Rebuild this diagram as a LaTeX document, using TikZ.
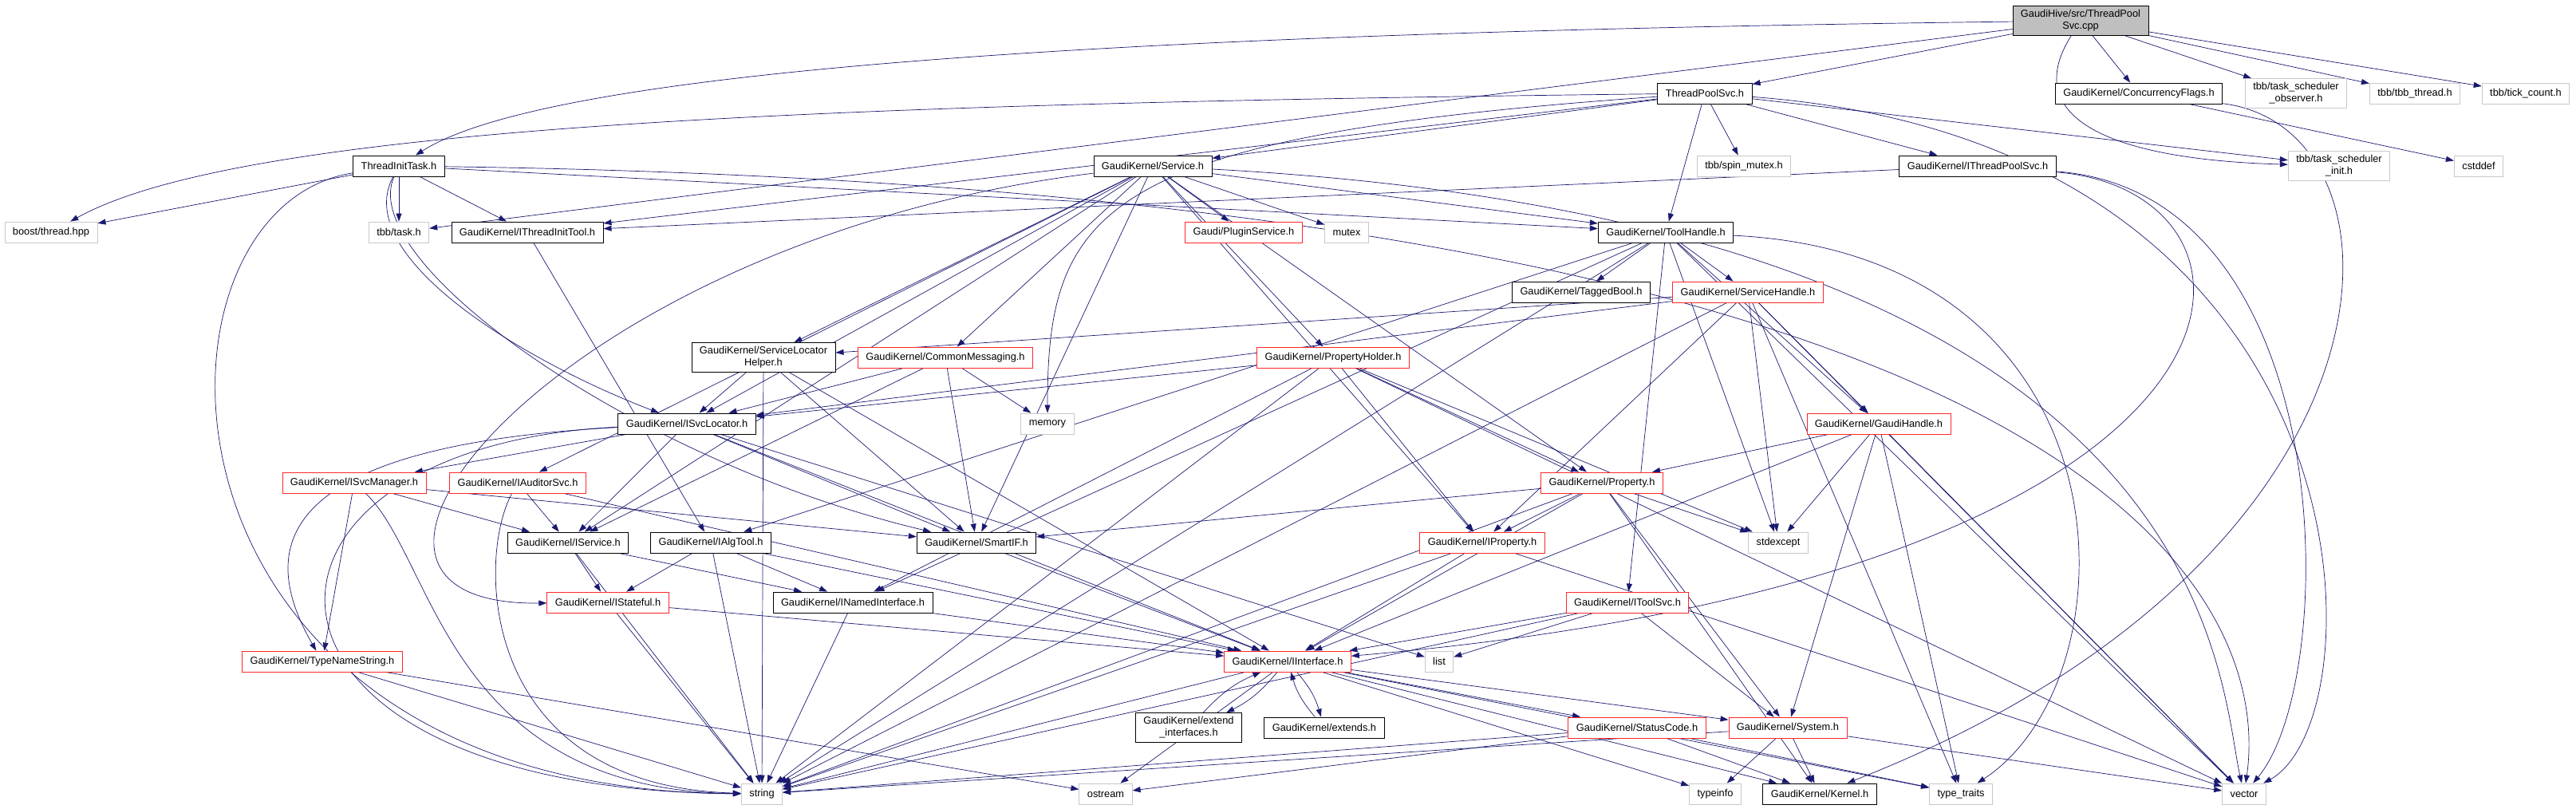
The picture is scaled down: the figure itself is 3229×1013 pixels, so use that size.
\documentclass[tikz,border=0pt]{standalone}
\usepackage{fontspec}
\setmainfont{Liberation Sans}
\usepackage{tikz}
\usetikzlibrary{arrows.meta, backgrounds, positioning}

\definecolor{edgeblue}{RGB}{25,25,112}
\definecolor{linkred}{RGB}{255,40,40}
\definecolor{sysgray}{RGB}{200,200,200}
\definecolor{rootgray}{RGB}{191,191,191}

\begin{document}
\begin{tikzpicture}[x=1pt, y=-1pt,
    hdr/.style={draw=black, line width=0.9pt, fill=white, font=\fontsize{12.8}{15}\selectfont,
                inner xsep=10pt, inner ysep=5pt, minimum height=26pt, align=center},
    redhdr/.style={hdr, draw=linkred},
    syshdr/.style={hdr, draw=sysgray},
    dep/.style={draw=edgeblue, line width=0.7pt, -{Triangle[length=10pt,width=7pt]}}]

    % Cadre
    \useasboundingbox (0,0) rectangle (3229,1013);

    % Fichier racine
    \node[hdr, fill=rootgray] (cpp) at (2608,26) {GaudiHive/src/ThreadPool\\Svc.cpp};

    % Rang 1
    \node[hdr] (tps) at (2137,117) {ThreadPoolSvc.h};
    \node[hdr] (cf) at (2681,117) {GaudiKernel/ConcurrencyFlags.h};
    \node[syshdr] (tso) at (2878,117) {tbb/task\_scheduler\\\_observer.h};
    \node[syshdr] (tbbt) at (3027,117) {tbb/tbb\_thread.h};
    \node[syshdr] (tick) at (3166,117) {tbb/tick\_count.h};

    % Rang 2
    \node[hdr] (tit) at (500,208) {ThreadInitTask.h};
    \node[hdr] (svc) at (1445,208) {GaudiKernel/Service.h};
    \node[syshdr] (spin) at (2186,208) {tbb/spin\_mutex.h};
    \node[hdr] (itps) at (2479,208) {GaudiKernel/IThreadPoolSvc.h};
    \node[syshdr] (tsi) at (2932,208) {tbb/task\_scheduler\\\_init.h};
    \node[syshdr] (cstd) at (3107,208) {cstddef};

    % Rang 3
    \node[syshdr] (boost) at (64,291) {boost/thread.hpp};
    \node[syshdr] (task) at (500,291) {tbb/task.h};
    \node[hdr] (itt) at (661,291) {GaudiKernel/IThreadInitTool.h};
    \node[redhdr] (plug) at (1559,291) {Gaudi/PluginService.h};
    \node[syshdr] (mtx) at (1688,291) {mutex};
    \node[hdr] (th) at (2088,291) {GaudiKernel/ToolHandle.h};

    % Rang 4
    \node[hdr] (tb) at (1982,366) {GaudiKernel/TaggedBool.h};
    \node[redhdr] (sh) at (2191,366) {GaudiKernel/ServiceHandle.h};
    \node[hdr] (slh) at (957,448) {GaudiKernel/ServiceLocator\\Helper.h};
    \node[redhdr] (cm) at (1185,448) {GaudiKernel/CommonMessaging.h};
    \node[redhdr] (ph) at (1671,448) {GaudiKernel/PropertyHolder.h};

    % Rang 5
    \node[hdr] (isl) at (861,531) {GaudiKernel/ISvcLocator.h};
    \node[syshdr] (mem) at (1313,531) {memory};
    \node[redhdr] (gh) at (2355,531) {GaudiKernel/GaudiHandle.h};
    \node[redhdr] (ism) at (444,605) {GaudiKernel/ISvcManager.h};
    \node[redhdr] (iaud) at (649,605) {GaudiKernel/IAuditorSvc.h};
    \node[redhdr] (prop) at (2008,605) {GaudiKernel/Property.h};

    % Rang 6
    \node[hdr] (isvc) at (712,680) {GaudiKernel/IService.h};
    \node[hdr] (iat) at (891,680) {GaudiKernel/IAlgTool.h};
    \node[hdr] (sif) at (1224,680) {GaudiKernel/SmartIF.h};
    \node[redhdr] (iprop) at (1858,680) {GaudiKernel/IProperty.h};
    \node[syshdr] (stdx) at (2229,680) {stdexcept};
    \node[redhdr] (ist) at (762,755) {GaudiKernel/IStateful.h};
    \node[hdr] (inam) at (1069,755) {GaudiKernel/INamedInterface.h};
    \node[redhdr] (itool) at (2040,755) {GaudiKernel/IToolSvc.h};

    % Rang 7
    \node[redhdr] (tns) at (404,829) {GaudiKernel/TypeNameString.h};
    \node[redhdr] (iif) at (1614,829) {GaudiKernel/IInterface.h};
    \node[syshdr] (list) at (1804,829) {list};
    \node[hdr] (ext) at (1490,912) {GaudiKernel/extend\\\_interfaces.h};
    \node[hdr] (exts) at (1660,912) {GaudiKernel/extends.h};
    \node[redhdr] (sc) at (2052,912) {GaudiKernel/StatusCode.h};
    \node[redhdr] (sys) at (2241,912) {GaudiKernel/System.h};

    % Rang 8
    \node[syshdr] (str) at (955,995) {string};
    \node[syshdr] (ostr) at (1386,995) {ostream};
    \node[syshdr] (tinfo) at (2150,995) {typeinfo};
    \node[hdr] (kern) at (2281,995) {GaudiKernel/Kernel.h};
    \node[syshdr] (tt) at (2458,995) {type\_traits};
    \node[syshdr] (vec) at (2813,995) {vector};

    \begin{pgfonlayer}{background}
    % Inclusions directes
    \foreach \a/\b in {cpp/tps, cpp/cf, cpp/task, cpp/tso, cpp/tbbt, cpp/tick,
                       tps/itt, tps/itps, tps/svc, tps/th, tps/spin, tps/tsi,
                       tit/boost, tit/task, tit/itt, tit/th,
                       cf/cstd, itps/itt, itt/iat,
                       svc/plug, svc/mtx, svc/th, svc/prop, svc/iprop, svc/cm, svc/slh,
                       svc/ph, svc/iaud, svc/isl, svc/isvc, svc/sif,
                       th/tb, th/sh, th/gh, th/iat, th/inam, th/itool, th/str, th/vec, th/stdx,
                       sh/slh, sh/gh, sh/isl, sh/iprop, sh/stdx, sh/str, sh/vec, sh/tt,
                       cm/isl, cm/isvc, cm/sif, cm/mem,
                       slh/isl, slh/sif, slh/str, slh/iif,
                       ph/isl, ph/iprop, ph/prop, ph/stdx, ph/vec, ph/inam, ph/str,
                       isl/ism, isl/isvc, isl/sif, isl/iif, isl/list,
                       ism/tns, ism/isvc, ism/sif, iaud/isvc, iaud/iif,
                       isvc/ist, isvc/inam, isvc/str,
                       iat/ist, iat/str, iat/inam, iat/iif,
                       ist/iif, ist/str, inam/iif, inam/str, sif/iif,
                       tns/str, tns/ostr,
                       iprop/iif, iprop/str, iprop/vec,
                       prop/sif, prop/iprop, prop/iif, prop/sys, prop/kern, prop/stdx, prop/str,
                       gh/prop, gh/iif, gh/stdx, gh/sys, gh/tt, gh/vec,
                       itool/iif, itool/list, itool/sys, itool/str,
                       iif/ostr, iif/tinfo, iif/kern, iif/sc, iif/sys, iif/tt, iif/str,
                       sc/str, sc/kern, sc/tt, sc/ostr,
                       sys/str, sys/tinfo, sys/kern, sys/vec} {
        \draw[dep] (\a) -- (\b);
    }

    % Inclusions croisees
    \draw[dep] (iif) to[bend left=12] (ext);
    \draw[dep] (ext) to[bend left=12] (iif);
    \draw[dep] (iif) to[bend left=12] (exts);
    \draw[dep] (exts) to[bend left=12] (iif);

    % Longs detours
    \draw[dep] (cpp) .. controls (1500,40) and (700,80) .. (tit);
    \draw[dep] (cpp) .. controls (2530,150) and (2650,200) .. (tsi);
    \draw[dep] (tps) .. controls (1000,130) and (300,160) .. (boost);
    \draw[dep] (tps) .. controls (1380,170) and (1313,260) .. (mem);
    \draw[dep] (tps) .. controls (2985,180) and (2985,900) .. (vec);
    \draw[dep] (tit) .. controls (161,260) and (161,990) .. (str);
    \draw[dep] (tit) .. controls (440,320) and (650,450) .. (isl);
    \draw[dep] (tit) .. controls (445,330) and (800,580) .. (sif);
    \draw[dep] (tit) .. controls (2834,240) and (2834,850) .. (vec);
    \draw[dep] (svc) .. controls (2780,280) and (2780,850) .. (vec);
    \draw[dep] (svc) .. controls (700,300) and (330,760) .. (ist);
    \draw[dep] (th) .. controls (2680,320) and (2680,850) .. (tt);
    \draw[dep] (cf) .. controls (3035,160) and (3035,700) .. (kern);
    \draw[dep] (itps) .. controls (2934,240) and (2934,850) .. (vec);
    \draw[dep] (itps) .. controls (2884,240) and (2884,720) .. (iif);
    \draw[dep] (isl) .. controls (263,560) and (263,990) .. (str);
    \draw[dep] (isl) .. controls (320,560) and (330,700) .. (tns);
    \draw[dep] (ism) .. controls (545,700) and (560,990) .. (str);
    \draw[dep] (iaud) .. controls (597,700) and (600,985) .. (str);
    \end{pgfonlayer}

\end{tikzpicture}
\end{document}
